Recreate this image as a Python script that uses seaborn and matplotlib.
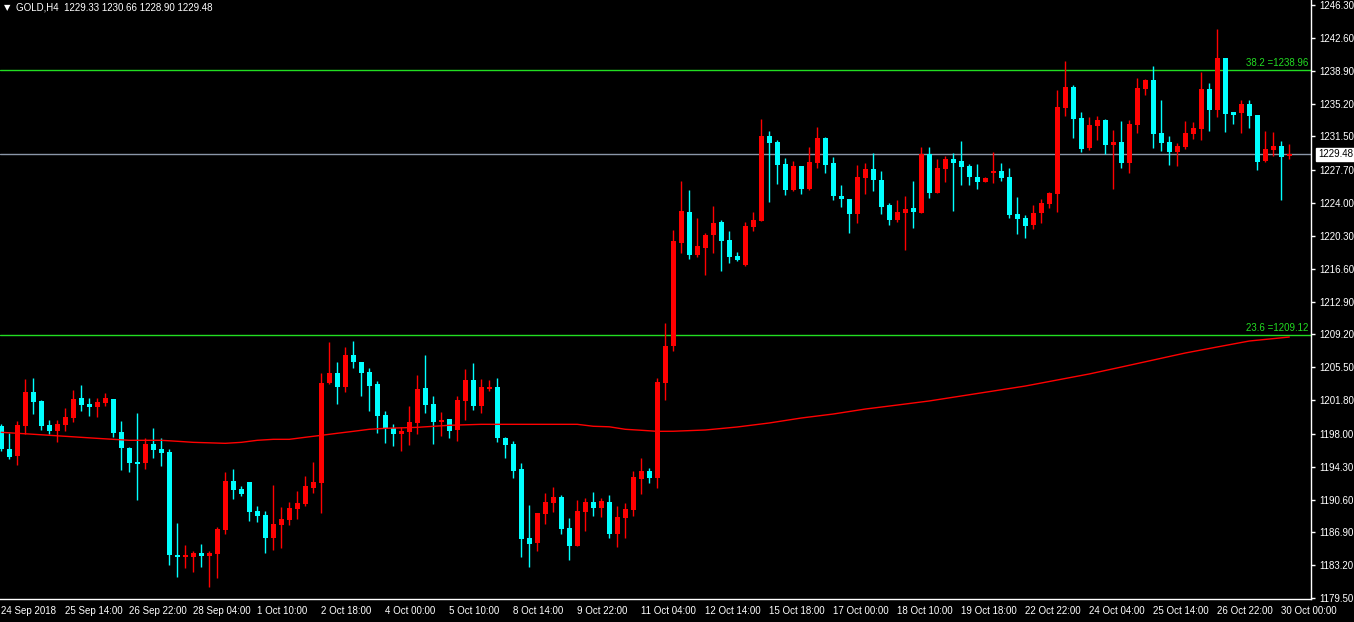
import numpy as np
import pandas as pd
import matplotlib
matplotlib.use("Agg")
import matplotlib.pyplot as plt
import matplotlib.transforms as mtransforms
import seaborn as sns

# H4 candles (index 0 = 24 Sep 2018)
opens = [1198.89, 1196.30, 1195.55, 1198.93, 1202.72, 1201.71, 1199.00, 1198.33, 1199.00, 1199.83,
         1202.04, 1201.37, 1201.03, 1201.48, 1201.93, 1198.21, 1196.41, 1194.84, 1194.72, 1196.86,
         1196.30, 1195.96, 1184.36, 1184.14, 1184.14, 1184.59, 1184.25, 1184.47, 1187.18, 1192.70,
         1191.79, 1192.58, 1189.32, 1188.87, 1186.28, 1187.74, 1188.30, 1189.54, 1190.11, 1191.91,
         1192.47, 1203.73, 1204.86, 1203.28, 1206.88, 1206.10, 1204.97, 1203.62, 1200.13, 1198.66,
         1197.99, 1198.21, 1199.23, 1203.17, 1201.37, 1199.34, 1199.68, 1198.44, 1201.70, 1204.07,
         1201.14, 1203.06, 1203.28, 1197.54, 1196.86, 1194.05, 1186.28, 1185.72, 1188.98, 1190.22,
         1190.90, 1187.40, 1185.38, 1189.21, 1190.33, 1189.66, 1190.33, 1186.73, 1188.53, 1189.43,
         1192.92, 1193.82, 1193.04, 1203.73, 1207.90, 1219.50, 1222.99, 1218.15, 1218.94, 1220.40,
         1221.86, 1219.84, 1218.04, 1217.02, 1221.30, 1221.98, 1231.55, 1230.87, 1228.40, 1225.47,
         1228.17, 1225.58, 1228.51, 1231.32, 1228.51, 1224.79, 1224.45, 1222.76, 1226.81, 1227.83,
         1226.59, 1223.77, 1222.09, 1222.87, 1223.44, 1222.87, 1229.52, 1225.13, 1227.83, 1228.96,
         1228.73, 1228.17, 1226.93, 1226.37, 1227.38, 1227.61, 1226.93, 1222.76, 1222.31, 1221.52,
         1222.87, 1223.89, 1225.01, 1234.70, 1237.06, 1233.57, 1230.19, 1232.67, 1233.35, 1230.53,
         1230.87, 1228.51, 1232.78, 1236.84, 1237.85, 1231.88, 1230.87, 1229.75, 1230.31, 1231.77,
         1232.34, 1236.84, 1234.47, 1240.33, 1234.25, 1234.14, 1235.15, 1233.91, 1228.73, 1229.97,
         1230.42, 1229.33]
highs = [1199.12, 1198.07, 1199.45, 1204.15, 1204.30, 1201.82, 1199.57, 1199.57, 1200.88, 1202.94,
         1203.51, 1202.04, 1202.01, 1202.57, 1201.93, 1199.45, 1196.53, 1200.35, 1197.54, 1198.67,
         1197.54, 1196.30, 1187.97, 1185.49, 1184.81, 1185.60, 1184.81, 1187.52, 1193.71, 1194.05,
         1192.13, 1192.58, 1189.88, 1189.32, 1192.25, 1189.77, 1190.33, 1191.57, 1193.26, 1194.84,
         1204.86, 1208.35, 1206.10, 1207.79, 1208.46, 1206.10, 1205.42, 1203.96, 1200.58, 1199.11,
         1198.78, 1201.14, 1204.63, 1206.88, 1202.27, 1200.47, 1199.68, 1202.27, 1205.31, 1205.98,
         1204.18, 1204.07, 1204.30, 1197.65, 1197.20, 1194.72, 1189.99, 1189.09, 1191.35, 1192.02,
         1191.12, 1188.53, 1190.56, 1190.78, 1191.46, 1190.78, 1191.12, 1189.88, 1190.22, 1193.82,
         1195.29, 1194.16, 1204.30, 1210.49, 1220.96, 1226.48, 1225.47, 1222.31, 1220.62, 1223.66,
         1222.09, 1220.85, 1218.49, 1221.86, 1222.99, 1233.46, 1232.11, 1231.10, 1229.07, 1228.73,
         1228.17, 1230.31, 1232.56, 1231.44, 1229.18, 1226.03, 1224.45, 1228.28, 1228.51, 1229.63,
         1227.60, 1224.00, 1224.34, 1224.79, 1226.48, 1230.31, 1230.31, 1228.96, 1229.29, 1229.63,
         1230.98, 1228.40, 1228.40, 1226.93, 1229.75, 1228.51, 1227.94, 1224.68, 1222.65, 1223.78,
         1224.45, 1225.24, 1236.73, 1239.99, 1237.29, 1234.25, 1233.68, 1233.80, 1233.46, 1232.22,
         1233.24, 1233.35, 1238.08, 1237.97, 1239.43, 1235.60, 1231.55, 1230.76, 1233.24, 1233.12,
         1238.75, 1237.52, 1243.60, 1240.33, 1234.25, 1235.60, 1235.60, 1233.91, 1232.11, 1232.00,
         1230.98, 1230.66]
lows = [1196.08, 1195.17, 1194.54, 1197.95, 1200.28, 1198.44, 1197.99, 1197.13, 1198.37, 1199.38,
        1200.62, 1200.02, 1199.94, 1201.18, 1197.65, 1193.94, 1193.71, 1190.56, 1194.05, 1195.29,
        1194.39, 1183.24, 1181.88, 1182.90, 1182.45, 1183.01, 1180.76, 1181.77, 1186.73, 1190.67,
        1191.01, 1188.19, 1188.08, 1184.59, 1184.93, 1185.15, 1187.74, 1188.42, 1189.88, 1191.34,
        1189.09, 1203.62, 1201.37, 1202.72, 1205.42, 1202.27, 1200.58, 1198.10, 1196.97, 1196.64,
        1196.07, 1196.75, 1197.99, 1200.35, 1196.86, 1197.76, 1197.54, 1197.20, 1199.56, 1200.69,
        1200.35, 1202.83, 1197.09, 1195.29, 1193.04, 1184.14, 1183.00, 1184.81, 1187.86, 1189.21,
        1186.73, 1183.80, 1185.38, 1187.07, 1188.76, 1188.64, 1186.28, 1185.27, 1186.28, 1188.76,
        1191.23, 1192.47, 1191.91, 1201.82, 1207.30, 1218.37, 1217.70, 1217.92, 1215.90, 1218.37,
        1216.35, 1217.25, 1217.48, 1216.91, 1220.85, 1221.98, 1224.12, 1226.14, 1224.90, 1225.35,
        1225.02, 1225.47, 1227.94, 1227.38, 1224.34, 1223.55, 1220.62, 1221.75, 1225.01, 1225.35,
        1222.76, 1221.52, 1221.86, 1218.71, 1221.19, 1222.87, 1224.56, 1225.13, 1226.37, 1223.10,
        1226.03, 1226.03, 1225.58, 1226.37, 1226.26, 1226.48, 1222.31, 1220.51, 1220.06, 1221.07,
        1221.75, 1223.44, 1223.00, 1233.80, 1231.32, 1229.74, 1229.97, 1231.10, 1229.52, 1225.58,
        1227.94, 1227.38, 1231.89, 1236.16, 1230.19, 1229.86, 1228.28, 1228.17, 1230.08, 1231.21,
        1231.10, 1232.11, 1233.69, 1232.00, 1232.90, 1231.88, 1232.45, 1227.72, 1228.62, 1229.29,
        1224.34, 1228.90]
closes = [1196.26, 1195.40, 1199.00, 1202.72, 1201.63, 1198.89, 1198.33, 1199.12, 1199.87, 1201.93,
          1201.26, 1201.03, 1201.59, 1202.04, 1198.10, 1196.41, 1194.72, 1194.61, 1196.86, 1196.19,
          1195.85, 1184.36, 1184.14, 1184.36, 1184.59, 1184.25, 1184.59, 1187.29, 1192.70, 1191.68,
          1191.23, 1189.20, 1188.75, 1186.28, 1187.85, 1188.42, 1189.65, 1190.22, 1192.13, 1192.58,
          1203.73, 1204.86, 1203.28, 1206.88, 1206.10, 1204.86, 1203.39, 1200.02, 1198.66, 1197.99,
          1198.33, 1199.34, 1203.06, 1201.25, 1199.34, 1199.56, 1198.33, 1201.82, 1204.07, 1201.14,
          1203.28, 1203.28, 1197.54, 1196.75, 1193.82, 1186.17, 1185.60, 1189.09, 1190.33, 1190.90,
          1187.29, 1185.38, 1189.32, 1190.33, 1189.66, 1190.45, 1186.73, 1188.64, 1189.54, 1193.15,
          1193.82, 1193.04, 1203.85, 1207.90, 1219.72, 1223.10, 1218.15, 1219.16, 1220.40, 1221.75,
          1219.72, 1217.92, 1217.59, 1221.41, 1222.09, 1231.55, 1230.76, 1228.28, 1225.47, 1228.17,
          1225.58, 1228.62, 1231.32, 1228.28, 1224.79, 1224.45, 1222.76, 1226.93, 1227.83, 1226.59,
          1223.55, 1222.09, 1222.99, 1223.32, 1222.99, 1229.52, 1225.13, 1227.94, 1228.96, 1228.51,
          1228.06, 1226.93, 1226.37, 1226.81, 1227.60, 1226.82, 1222.65, 1222.20, 1221.41, 1222.87,
          1224.00, 1225.13, 1234.81, 1237.06, 1233.46, 1230.08, 1232.78, 1233.35, 1230.53, 1230.87,
          1228.51, 1232.90, 1236.95, 1237.85, 1231.77, 1230.76, 1229.75, 1230.42, 1231.88, 1232.45,
          1236.84, 1234.47, 1240.33, 1234.02, 1233.91, 1235.15, 1233.80, 1228.62, 1230.08, 1230.42,
          1229.18, 1229.48]

# moving average (red line), sampled along the chart
ma_bars = [0, 4, 8, 12, 16, 20, 22, 24, 28, 30, 32, 34, 36, 38, 40, 42, 44, 46, 48, 52,
           56, 60, 64, 68, 72, 74, 76, 78, 80, 82, 84, 88, 92, 96, 100, 104, 108, 112, 116,
           120, 124, 128, 132, 136, 140, 144, 148, 152, 156, 161]
ma_values = [1198.18, 1197.96, 1197.73, 1197.50, 1197.28, 1197.28, 1197.17, 1197.05, 1196.94, 1197.05,
             1197.28, 1197.39, 1197.39, 1197.62, 1197.84, 1198.07, 1198.29, 1198.52, 1198.63, 1198.74,
             1198.97, 1199.08, 1199.08, 1199.08, 1199.08, 1198.86, 1198.80, 1198.52, 1198.41, 1198.29,
             1198.30, 1198.44, 1198.78, 1199.23, 1199.79, 1200.24, 1200.80, 1201.25, 1201.71,
             1202.27, 1202.83, 1203.39, 1204.07, 1204.75, 1205.53, 1206.32, 1207.11, 1207.79, 1208.46, 1208.91]

price_ticks = [1246.30, 1242.60, 1238.90, 1235.20, 1231.50, 1227.70, 1224.00, 1220.30, 1216.60,
               1212.90, 1209.20, 1205.50, 1201.80, 1198.00, 1194.30, 1190.60, 1186.90, 1183.20, 1179.50]
time_labels = ["24 Sep 2018", "25 Sep 14:00", "26 Sep 22:00", "28 Sep 04:00", "1 Oct 10:00",
               "2 Oct 18:00", "4 Oct 00:00", "5 Oct 10:00", "8 Oct 14:00", "9 Oct 22:00",
               "11 Oct 04:00", "12 Oct 14:00", "15 Oct 18:00", "17 Oct 00:00", "18 Oct 10:00",
               "19 Oct 18:00", "22 Oct 22:00", "24 Oct 04:00", "25 Oct 14:00", "26 Oct 22:00",
               "30 Oct 00:00"]
fib_levels = [1238.96, 1209.12]
fib_names = ["38.2", "23.6"]
last_price = 1229.48
header = "GOLD,H4  1229.33 1230.66 1228.90 1229.48"

UP = "#ff0000"
DOWN = "#00ffff"
FIB = "#22dd22"
BID = "#8a96a8"

sns.set_style("dark", {"axes.facecolor": "black", "figure.facecolor": "black"})
plt.rcParams['font.family'] = ['Liberation Sans', 'DejaVu Sans']
plt.rcParams['font.size'] = 7

df = pd.DataFrame({"open": opens, "high": highs, "low": lows, "close": closes})
df["bar"] = np.arange(len(df))
df["up"] = df["close"] >= df["open"]
df["color"] = np.where(df["up"], UP, DOWN)
df["bottom"] = df[["open", "close"]].min(axis=1)
df["height"] = (df["close"] - df["open"]).abs().clip(lower=0.09)

W, H = 1354, 622
fig = plt.figure(figsize=(W / 100, H / 100), dpi=100)
ax = fig.add_axes([0, 23 / H, 1311 / W, 599 / H])
ax.set_facecolor("black")

# bid line and fibo levels
ax.axhline(last_price, color=BID, lw=1, zorder=1)
for lvl, name in zip(fib_levels, fib_names):
    ax.axhline(lvl, color=FIB, lw=1, zorder=1)
    ax.annotate(f"{name} ={lvl:.2f}", xy=(1.0, lvl), xycoords=("axes fraction", "data"),
                xytext=(-2, 1.5), textcoords="offset points", ha="right", va="bottom",
                color=FIB, fontsize=7)

# candles
ax.vlines(df["bar"], df["low"], df["high"], colors=df["color"], lw=1, zorder=2)
ax.bar(df["bar"], df["height"], bottom=df["bottom"], width=0.625, color=df["color"],
       linewidth=0, zorder=3)

# moving average
ma = pd.DataFrame({"bar": ma_bars, "ma": ma_values})
sns.lineplot(data=ma, x="bar", y="ma", color="red", lw=1, ax=ax, zorder=4)

ax.set_xlim(-0.16, -0.16 + 1311 / 8)
ax.set_ylim(1179.41, 1246.86)

# axes decoration
for side in ["top", "left"]:
    ax.spines[side].set_visible(False)
for side in ["right", "bottom"]:
    ax.spines[side].set_visible(True)
    ax.spines[side].set_color("white")
    ax.spines[side].set_linewidth(1)

ax.yaxis.tick_right()
ax.set_yticks(price_ticks)
ax.set_yticklabels([f"{p:.2f}" for p in price_ticks])
ax.set_xticks(np.arange(0, 8 * len(time_labels), 8))
ax.set_xticklabels(time_labels, ha="left")
ax.tick_params(axis="both", colors="white", direction="out", length=3, width=1,
               labelsize=7, labelcolor="white")
ax.tick_params(axis="x", pad=2)
ax.tick_params(axis="y", pad=3)
ax.set_xlabel("")
ax.set_ylabel("")
ax.grid(False)

# last price box on the scale
ax.annotate(f"{last_price:.2f}", xy=(1.0, last_price), xycoords=("axes fraction", "data"),
            xytext=(5, 0), textcoords="offset points", ha="left", va="center",
            color="black", fontsize=7, zorder=10, annotation_clip=False,
            bbox=dict(boxstyle="square,pad=0.15", facecolor="white", edgecolor="white"))

# header
fig.text(4 / W, 1 - 8 / H, "\u25bc", color="white", fontsize=6, va="center", ha="left",
         family=["DejaVu Sans"])
fig.text(16 / W, 1 - 8 / H, header, color="white", fontsize=7, va="center", ha="left")

fig.savefig("out.png", dpi=100, facecolor="black")
